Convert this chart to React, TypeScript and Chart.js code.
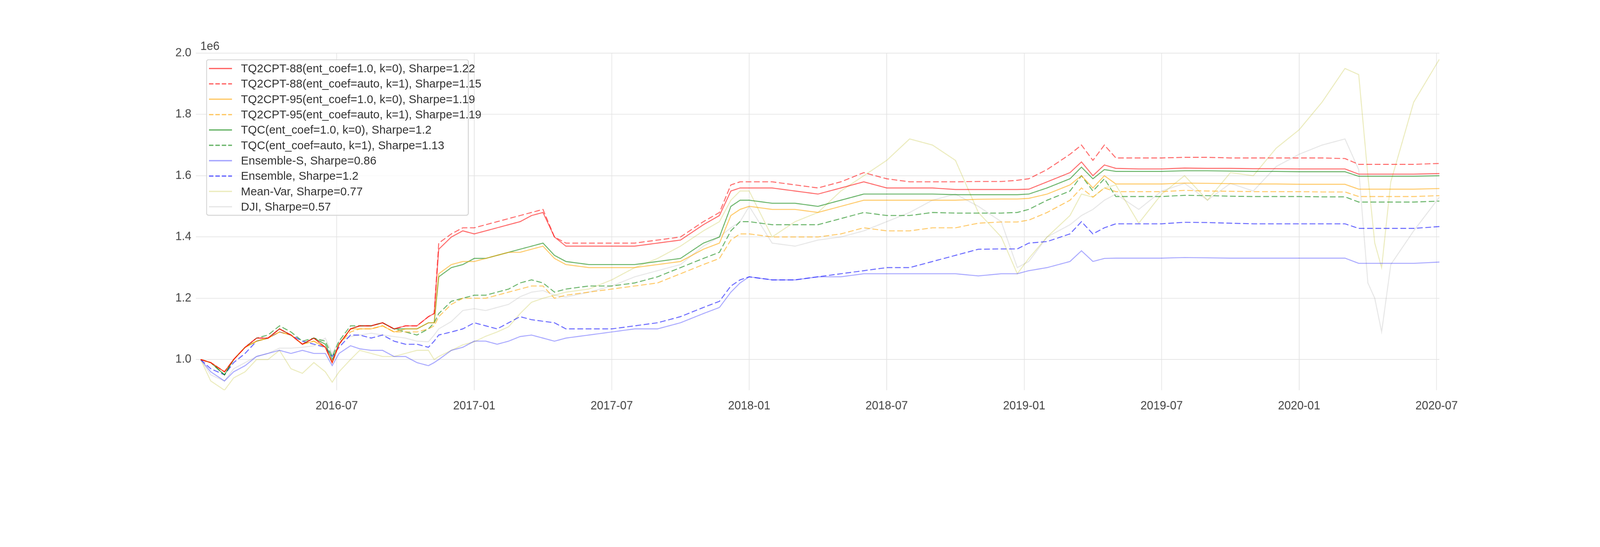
import React, { useEffect, useRef } from 'react';
import { Chart, registerables } from 'chart.js';

Chart.register(...registerables);

// months since 2016-01-01
const months = [
  0.06, 0.5, 1.1, 1.5, 2, 2.5, 3, 3.5, 4, 4.5,
  5, 5.5, 5.8, 6.1, 6.6, 7, 7.5, 8, 8.5, 9,
  9.5, 10, 10.25, 10.45, 11, 11.5, 12, 12.5, 13, 13.5,
  14, 14.5, 15, 15.5, 16, 17, 18, 19, 20, 21,
  22, 22.7, 23.2, 23.6, 24, 25, 26, 27, 28, 29,
  30, 31, 32, 33, 34, 35, 35.7, 36.2, 37, 38,
  38.5, 39, 39.5, 40, 41, 42, 43, 44, 45, 46,
  47, 48, 49, 50, 50.6, 51, 51.3, 51.6, 52, 53, 54.12,
];

// portfolio value, in millions
const tq88 = [
  1.0, 0.99, 0.96, 1.0, 1.04, 1.07, 1.07, 1.10, 1.08, 1.05,
  1.07, 1.04, 0.99, 1.05, 1.10, 1.11, 1.11, 1.12, 1.10, 1.11,
  1.11, 1.14, 1.15, 1.36, 1.40, 1.42, 1.41, 1.42, 1.43, 1.44,
  1.45, 1.47, 1.48, 1.40, 1.37, 1.37, 1.37, 1.37, 1.38, 1.39,
  1.44, 1.47, 1.55, 1.56, 1.56, 1.56, 1.55, 1.54, 1.56, 1.58,
  1.56, 1.56, 1.56, 1.555, 1.555, 1.555, 1.555, 1.556, 1.58, 1.61,
  1.645, 1.60, 1.635, 1.624, 1.622, 1.622, 1.625, 1.624, 1.624, 1.623,
  1.623, 1.622, 1.622, 1.622, 1.605, 1.605, 1.605, 1.605, 1.605, 1.605, 1.607,
];
const tq88a = [
  1.0, 0.99, 0.96, 1.0, 1.04, 1.07, 1.07, 1.10, 1.08, 1.05,
  1.07, 1.04, 0.99, 1.05, 1.10, 1.11, 1.11, 1.12, 1.10, 1.11,
  1.11, 1.14, 1.15, 1.38, 1.41, 1.43, 1.43, 1.44, 1.45, 1.46,
  1.47, 1.48, 1.49, 1.40, 1.38, 1.38, 1.38, 1.38, 1.39, 1.40,
  1.45, 1.48, 1.57, 1.58, 1.58, 1.58, 1.57, 1.56, 1.58, 1.61,
  1.59, 1.58, 1.58, 1.58, 1.581, 1.581, 1.585, 1.59, 1.62, 1.67,
  1.70, 1.65, 1.70, 1.658, 1.658, 1.658, 1.66, 1.66, 1.658, 1.658,
  1.658, 1.658, 1.658, 1.656, 1.637, 1.637, 1.637, 1.637, 1.637, 1.637, 1.64,
];
const tq95 = [
  1.0, 0.99, 0.96, 1.0, 1.04, 1.06, 1.07, 1.09, 1.08, 1.05,
  1.06, 1.04, 0.99, 1.05, 1.10, 1.10, 1.10, 1.11, 1.09, 1.10,
  1.10, 1.12, 1.12, 1.28, 1.31, 1.32, 1.32, 1.33, 1.34, 1.35,
  1.35, 1.36, 1.37, 1.33, 1.31, 1.30, 1.30, 1.30, 1.31, 1.32,
  1.36, 1.38, 1.47, 1.49, 1.50, 1.49, 1.49, 1.48, 1.50, 1.52,
  1.52, 1.52, 1.52, 1.52, 1.523, 1.524, 1.524, 1.526, 1.54, 1.57,
  1.60, 1.56, 1.60, 1.573, 1.573, 1.573, 1.576, 1.575, 1.574, 1.573,
  1.573, 1.572, 1.572, 1.572, 1.556, 1.556, 1.556, 1.556, 1.556, 1.556, 1.558,
];
const tq95a = [
  1.0, 0.99, 0.96, 1.0, 1.04, 1.06, 1.07, 1.09, 1.08, 1.05,
  1.06, 1.04, 0.99, 1.05, 1.09, 1.10, 1.10, 1.11, 1.09, 1.09,
  1.09, 1.10, 1.11, 1.14, 1.18, 1.20, 1.20, 1.20, 1.21, 1.22,
  1.23, 1.24, 1.24, 1.20, 1.21, 1.22, 1.23, 1.24, 1.25, 1.28,
  1.31, 1.33, 1.39, 1.41, 1.41, 1.40, 1.40, 1.40, 1.41, 1.43,
  1.42, 1.42, 1.43, 1.43, 1.445, 1.449, 1.449, 1.455, 1.48, 1.52,
  1.56, 1.53, 1.56, 1.548, 1.548, 1.548, 1.552, 1.55, 1.549, 1.548,
  1.548, 1.548, 1.547, 1.547, 1.532, 1.532, 1.532, 1.532, 1.532, 1.532, 1.535,
];
const tqc = [
  1.0, 0.99, 0.95, 1.0, 1.04, 1.06, 1.07, 1.10, 1.08, 1.05,
  1.07, 1.05, 1.00, 1.05, 1.10, 1.11, 1.11, 1.12, 1.10, 1.10,
  1.10, 1.12, 1.12, 1.27, 1.30, 1.31, 1.33, 1.33, 1.34, 1.35,
  1.36, 1.37, 1.38, 1.34, 1.32, 1.31, 1.31, 1.31, 1.32, 1.33,
  1.38, 1.40, 1.50, 1.52, 1.52, 1.51, 1.51, 1.50, 1.52, 1.54,
  1.54, 1.54, 1.54, 1.538, 1.538, 1.538, 1.538, 1.54, 1.56, 1.59,
  1.628, 1.59, 1.62, 1.614, 1.614, 1.614, 1.616, 1.616, 1.615, 1.614,
  1.614, 1.613, 1.613, 1.613, 1.598, 1.598, 1.598, 1.598, 1.598, 1.598, 1.60,
];
const tqca = [
  1.0, 0.99, 0.95, 1.0, 1.04, 1.07, 1.08, 1.11, 1.09, 1.06,
  1.07, 1.06, 1.01, 1.06, 1.11, 1.11, 1.11, 1.12, 1.10, 1.09,
  1.08, 1.10, 1.12, 1.15, 1.19, 1.20, 1.21, 1.21, 1.22, 1.23,
  1.25, 1.26, 1.25, 1.22, 1.23, 1.24, 1.24, 1.25, 1.27, 1.30,
  1.33, 1.35, 1.42, 1.45, 1.45, 1.44, 1.44, 1.44, 1.46, 1.48,
  1.47, 1.47, 1.48, 1.478, 1.478, 1.478, 1.48, 1.49, 1.52, 1.55,
  1.60, 1.55, 1.59, 1.532, 1.532, 1.532, 1.536, 1.535, 1.533, 1.532,
  1.532, 1.532, 1.531, 1.531, 1.514, 1.514, 1.514, 1.514, 1.514, 1.514, 1.517,
];
const ensS = [
  1.0, 0.96, 0.93, 0.96, 0.98, 1.01, 1.02, 1.03, 1.02, 1.03,
  1.02, 1.02, 0.98, 1.02, 1.045, 1.035, 1.03, 1.03, 1.01, 1.01,
  0.99, 0.98, 0.99, 1.00, 1.03, 1.04, 1.06, 1.06, 1.05, 1.06,
  1.075, 1.08, 1.07, 1.06, 1.07, 1.08, 1.09, 1.10, 1.10, 1.12,
  1.15, 1.17, 1.22, 1.25, 1.27, 1.26, 1.26, 1.27, 1.27, 1.28,
  1.28, 1.28, 1.28, 1.28, 1.273, 1.28, 1.28, 1.29, 1.30, 1.32,
  1.355, 1.32, 1.33, 1.331, 1.331, 1.331, 1.333, 1.332, 1.331, 1.331,
  1.331, 1.331, 1.331, 1.331, 1.314, 1.314, 1.314, 1.314, 1.314, 1.314, 1.318,
];
const ens = [
  1.0, 0.97, 0.95, 0.99, 1.02, 1.06, 1.07, 1.09, 1.08, 1.06,
  1.05, 1.04, 1.01, 1.04, 1.08, 1.08, 1.07, 1.08, 1.06, 1.05,
  1.05, 1.04, 1.06, 1.08, 1.09, 1.10, 1.12, 1.11, 1.10, 1.12,
  1.14, 1.13, 1.125, 1.12, 1.10, 1.10, 1.10, 1.11, 1.12, 1.14,
  1.17, 1.19, 1.24, 1.26, 1.27, 1.26, 1.26, 1.27, 1.28, 1.29,
  1.30, 1.30, 1.32, 1.34, 1.36, 1.361, 1.361, 1.38, 1.385, 1.41,
  1.45, 1.41, 1.43, 1.443, 1.443, 1.443, 1.448, 1.447, 1.445, 1.443,
  1.443, 1.443, 1.443, 1.443, 1.428, 1.428, 1.428, 1.428, 1.428, 1.428, 1.434,
];
const meanVar = [
  1.0, 0.93, 0.90, 0.94, 0.96, 1.00, 1.00, 1.03, 0.97, 0.955,
  0.99, 0.96, 0.926, 0.96, 1.00, 1.03, 1.02, 1.01, 1.01, 1.02,
  1.03, 1.03, 1.00, 1.01, 1.03, 1.048, 1.058, 1.076, 1.09, 1.107,
  1.15, 1.187, 1.20, 1.21, 1.22, 1.23, 1.26, 1.30, 1.33, 1.37,
  1.42, 1.45, 1.52, 1.55, 1.55, 1.40, 1.45, 1.48, 1.55, 1.60,
  1.65, 1.72, 1.70, 1.65, 1.48, 1.40, 1.28, 1.33, 1.40, 1.47,
  1.54, 1.53, 1.56, 1.57, 1.445, 1.54, 1.60, 1.52, 1.61, 1.60,
  1.69, 1.75, 1.84, 1.95, 1.93, 1.60, 1.38, 1.30, 1.58, 1.84, 1.98,
];
const dji = [
  1.0, 0.95, 0.93, 0.97, 0.99, 1.01, 1.02, 1.037, 1.037, 1.04,
  1.045, 1.07, 1.02, 1.06, 1.075, 1.08, 1.086, 1.08, 1.075, 1.07,
  1.06, 1.058, 1.08, 1.10, 1.124, 1.16, 1.166, 1.16, 1.17, 1.18,
  1.205, 1.22, 1.225, 1.21, 1.204, 1.22, 1.24, 1.27, 1.29, 1.31,
  1.37, 1.40, 1.43, 1.45, 1.50, 1.38, 1.37, 1.39, 1.40, 1.42,
  1.45, 1.48, 1.52, 1.54, 1.50, 1.45, 1.30, 1.32, 1.40, 1.44,
  1.47, 1.49, 1.52, 1.54, 1.49, 1.55, 1.575, 1.52, 1.575, 1.55,
  1.63, 1.67, 1.70, 1.72, 1.62, 1.25, 1.20, 1.09, 1.31, 1.42, 1.53,
];

const xTicks = [6, 12, 18, 24, 30, 36, 42, 48, 54];
const yTicks = [1.0, 1.2, 1.4, 1.6, 1.8, 2.0];

const series = [
  { label: 'TQ2CPT-88(ent_coef=1.0, k=0), Sharpe=1.22', data: tq88, color: 'rgba(255,0,0,0.6)', dash: false },
  { label: 'TQ2CPT-88(ent_coef=auto, k=1), Sharpe=1.15', data: tq88a, color: 'rgba(255,0,0,0.6)', dash: true },
  { label: 'TQ2CPT-95(ent_coef=1.0, k=0), Sharpe=1.19', data: tq95, color: 'rgba(255,165,0,0.6)', dash: false },
  { label: 'TQ2CPT-95(ent_coef=auto, k=1), Sharpe=1.19', data: tq95a, color: 'rgba(255,165,0,0.6)', dash: true },
  { label: 'TQC(ent_coef=1.0, k=0), Sharpe=1.2', data: tqc, color: 'rgba(0,128,0,0.6)', dash: false },
  { label: 'TQC(ent_coef=auto, k=1), Sharpe=1.13', data: tqca, color: 'rgba(0,128,0,0.6)', dash: true },
  { label: 'Ensemble-S, Sharpe=0.86', data: ensS, color: 'rgba(0,0,255,0.35)', dash: false },
  { label: 'Ensemble, Sharpe=1.2', data: ens, color: 'rgba(0,0,255,0.6)', dash: true },
  { label: 'Mean-Var, Sharpe=0.77', data: meanVar, color: 'rgba(188,189,34,0.3)', dash: false },
  { label: 'DJI, Sharpe=0.57', data: dji, color: 'rgba(128,128,128,0.2)', dash: false },
];

const FONT = '"Liberation Sans", Arial, sans-serif';
const DASH = [18, 8];

const monthLabel = (m: number) => {
  const y = 2016 + Math.floor(m / 12);
  const mo = (m % 12) + 1;
  return `${y}-${mo < 10 ? '0' : ''}${mo}`;
};

// the "1e6" offset text above the y axis
const offsetText = {
  id: 'offsetText',
  afterDraw(chart: any) {
    const { ctx, chartArea } = chart;
    ctx.save();
    ctx.font = `36px ${FONT}`;
    ctx.fillStyle = '#444';
    ctx.textBaseline = 'bottom';
    ctx.fillText('1e6', chartArea.left + 14, chartArea.top - 2);
    ctx.restore();
  },
};

const App: React.FC = () => {
  const canvasRef = useRef<HTMLCanvasElement | null>(null);
  const chartRef = useRef<Chart | null>(null);

  // the whole figure is laid out at 5000x1400 and scaled to the viewport width
  const f = typeof window !== 'undefined' ? Math.min(1, window.innerWidth / 5000) : 1;

  useEffect(() => {
    document.body.style.margin = '0';
    document.body.style.overflow = 'hidden';
    if (!canvasRef.current) return;
    if (chartRef.current) chartRef.current.destroy();

    chartRef.current = new Chart(canvasRef.current, {
      type: 'line',
      data: {
        datasets: series.map((s) => ({
          label: s.label,
          data: s.data.map((v, i) => ({ x: months[i], y: v })),
          borderColor: s.color,
          backgroundColor: s.color,
          borderWidth: 3,
          borderDash: s.dash ? DASH : [],
          pointRadius: 0,
          tension: 0,
          fill: false,
        })),
      },
      options: {
        animation: false,
        responsive: false,
        layout: { padding: { top: 166, right: 502, left: 0, bottom: 0 } },
        plugins: { legend: { display: false }, tooltip: { enabled: false } },
        scales: {
          x: {
            type: 'linear',
            min: -0.15,
            max: 54.12,
            afterBuildTicks: (scale: any) => {
              scale.ticks = xTicks.map((v) => ({ value: v }));
            },
            afterFit: (scale: any) => {
              scale.height = 181;
            },
            ticks: {
              callback: (v: any) => monthLabel(Number(v)),
              font: { size: 36, family: FONT },
              color: '#444',
              padding: 28,
              maxRotation: 0,
            },
            grid: { color: '#e3e3e3', lineWidth: 2, drawTicks: false },
            border: { display: false },
          },
          y: {
            min: 0.9,
            max: 2.0,
            afterBuildTicks: (scale: any) => {
              scale.ticks = yTicks.map((v) => ({ value: v }));
            },
            afterFit: (scale: any) => {
              scale.width = 612;
            },
            ticks: {
              callback: (v: any) => Number(v).toFixed(1),
              font: { size: 36, family: FONT },
              color: '#444',
              padding: 14,
            },
            grid: { color: '#e3e3e3', lineWidth: 2, drawTicks: false },
            border: { display: false },
          },
        },
      },
      plugins: [offsetText],
    });

    return () => {
      if (chartRef.current) {
        chartRef.current.destroy();
        chartRef.current = null;
      }
    };
  }, []);

  return (
    <div style={{ width: 5000 * f, height: 1400 * f, overflow: 'hidden', background: '#fff' }}>
      <div style={{ position: 'relative', width: 5000, height: 1400, transform: `scale(${f})`, transformOrigin: '0 0' }}>
        <canvas ref={canvasRef} width={5000} height={1400} style={{ display: 'block' }} />
        <div
          style={{
            position: 'absolute',
            left: 644,
            top: 185,
            width: 815,
            height: 483,
            border: '3px solid #d5d5d5',
            borderRadius: 8,
            background: 'rgba(255,255,255,0.8)',
            fontFamily: FONT,
            fontSize: 36,
            color: '#333',
          }}
        >
          {series.map((s, i) => (
            <div
              key={s.label}
              style={{ position: 'absolute', left: 0, top: 2 + i * 48, height: 48, display: 'flex', alignItems: 'center', whiteSpace: 'nowrap' }}
            >
              <svg width={90} height={10} style={{ marginLeft: 6, marginRight: 10 }}>
                <line
                  x1={0}
                  y1={5}
                  x2={72}
                  y2={5}
                  stroke={s.color}
                  strokeWidth={4}
                  strokeDasharray={s.dash ? '14 6' : undefined}
                />
              </svg>
              <span>{s.label}</span>
            </div>
          ))}
        </div>
      </div>
    </div>
  );
};

export default App;
